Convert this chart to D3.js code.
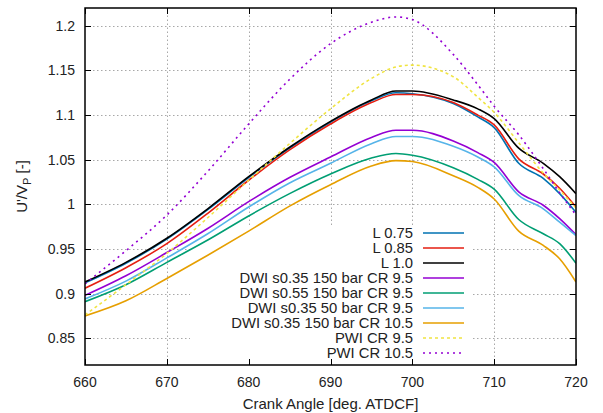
<!DOCTYPE html>
<html>
<head>
<meta charset="utf-8">
<script src="https://cdn.jsdelivr.net/npm/d3@7"></script>
<style>
  body { margin: 0; background: #fff; }
  svg { font-family: 'Liberation Sans', Arial, sans-serif; }
</style>
</head>
<body>
<div id="chart"></div>
<script>
// data ---------------------------------------------------------------
const angles = [660, 665, 670, 675, 680, 685, 690, 695, 698, 700, 705, 708, 710, 713, 716, 718, 720];
const l075 = [0.912, 0.934, 0.961, 0.994, 1.030, 1.063, 1.092, 1.116, 1.125, 1.124, 1.113, 1.098, 1.086, 1.046, 1.029, 1.012, 0.991];
const l085 = [0.906, 0.929, 0.956, 0.990, 1.027, 1.061, 1.090, 1.114, 1.123, 1.123, 1.114, 1.100, 1.089, 1.051, 1.034, 1.018, 0.997];
const l100 = [0.913, 0.935, 0.962, 0.995, 1.031, 1.064, 1.093, 1.117, 1.127, 1.127, 1.117, 1.107, 1.096, 1.063, 1.046, 1.031, 1.012];
const dwi035_150 = [0.898, 0.920, 0.946, 0.973, 1.003, 1.030, 1.053, 1.075, 1.083, 1.083, 1.071, 1.058, 1.047, 1.014, 0.999, 0.984, 0.966];
const dwi055_150 = [0.891, 0.910, 0.935, 0.960, 0.987, 1.012, 1.034, 1.052, 1.057, 1.055, 1.041, 1.028, 1.017, 0.983, 0.967, 0.956, 0.934];
const dwi035_50 = [0.894, 0.914, 0.940, 0.967, 0.997, 1.024, 1.046, 1.068, 1.076, 1.076, 1.065, 1.053, 1.042, 1.010, 0.995, 0.980, 0.965];
const dwi035_150_cr105 = [0.875, 0.892, 0.917, 0.943, 0.970, 0.998, 1.022, 1.043, 1.049, 1.048, 1.032, 1.019, 1.006, 0.970, 0.954, 0.939, 0.913];
const pwi95 = [0.876, 0.910, 0.945, 0.985, 1.027, 1.068, 1.107, 1.141, 1.154, 1.156, 1.143, 1.120, 1.103, 1.069, 1.035, 1.016, 0.996];
const pwi105 = [0.911, 0.948, 0.988, 1.037, 1.090, 1.140, 1.180, 1.204, 1.210, 1.207, 1.168, 1.134, 1.110, 1.078, 1.040, 1.013, 0.988];

const seriesNames = ['L 0.75', 'L 0.85', 'L 1.0', 'DWI s0.35 150 bar CR 9.5', 'DWI s0.55 150 bar CR 9.5',
  'DWI s0.35 50 bar CR 9.5', 'DWI s0.35 150 bar CR 10.5', 'PWI CR 9.5', 'PWI CR 10.5'];
const seriesValues = [l075, l085, l100, dwi035_150, dwi055_150, dwi035_50, dwi035_150_cr105, pwi95, pwi105];
const seriesColors = ['#0072b2', '#e51e10', '#000000', '#9400d3', '#009e73', '#56b4e9', '#e69f00', '#f0e442', '#9400d3'];
const seriesDash = [null, null, null, null, null, null, null, '3,3', '2,4'];

const xTicks = [660, 670, 680, 690, 700, 710, 720];
const yTicks = [0.85, 0.9, 0.95, 1, 1.05, 1.1, 1.15, 1.2];

// layout -------------------------------------------------------------
const width = 603;
const height = 413;
const margin = { top: 8, right: 27, bottom: 48, left: 85 };
const x0 = margin.left, x1 = width - margin.right;
const y0 = height - margin.bottom, y1 = margin.top;

const svg = d3.select('#chart').append('svg')
  .attr('width', width)
  .attr('height', height);

const xScale = d3.scaleLinear().domain([660, 720]).range([x0, x1]);
const yScale = d3.scaleLinear().domain([0.82, 1.22]).range([y0, y1]);

// grid ---------------------------------------------------------------
const grid = svg.append('g')
  .attr('stroke', '#a8a8a8')
  .attr('stroke-width', 1)
  .attr('stroke-dasharray', '1.5,2.5');
grid.selectAll('.gx')
  .data(xTicks.slice(1, -1))
  .enter().append('line')
  .attr('x1', d => Math.round(xScale(d)) + 0.5)
  .attr('x2', d => Math.round(xScale(d)) + 0.5)
  .attr('y1', y0)
  .attr('y2', y1);
grid.selectAll('.gy')
  .data(yTicks)
  .enter().append('line')
  .attr('x1', x0)
  .attr('x2', x1)
  .attr('y1', d => Math.round(yScale(d)) + 0.5)
  .attr('y2', d => Math.round(yScale(d)) + 0.5);

// legend background (covers grid) -------------------------------------
svg.append('rect')
  .attr('x', 190)
  .attr('y', 225)
  .attr('width', 283)
  .attr('height', y0 - 225 - 1)
  .attr('fill', '#fff');

// curves -------------------------------------------------------------
const line = d3.line()
  .x(d => xScale(d[0]))
  .y(d => yScale(d[1]))
  .curve(d3.curveMonotoneX);

svg.append('defs').append('clipPath').attr('id', 'clip')
  .append('rect').attr('x', x0).attr('y', y1).attr('width', x1 - x0).attr('height', y0 - y1);

const curves = svg.append('g').attr('clip-path', 'url(#clip)');
seriesValues.forEach((vals, i) => {
  curves.append('path')
    .datum(angles.map((a, j) => [a, vals[j]]))
    .attr('d', line)
    .attr('fill', 'none')
    .attr('stroke', seriesColors[i])
    .attr('stroke-width', 1.6)
    .attr('stroke-dasharray', seriesDash[i]);
});

// frame + ticks ------------------------------------------------------
const tickLen = 6;
const axes = svg.append('g').attr('stroke', '#000').attr('stroke-width', 1);
xTicks.forEach(t => {
  const x = Math.round(xScale(t)) + 0.5;
  axes.append('line').attr('x1', x).attr('x2', x).attr('y1', y0).attr('y2', y0 - tickLen);
  axes.append('line').attr('x1', x).attr('x2', x).attr('y1', y1).attr('y2', y1 + tickLen);
});
yTicks.forEach(t => {
  const y = Math.round(yScale(t)) + 0.5;
  axes.append('line').attr('x1', x0).attr('x2', x0 + tickLen).attr('y1', y).attr('y2', y);
  axes.append('line').attr('x1', x1).attr('x2', x1 - tickLen).attr('y1', y).attr('y2', y);
});
svg.append('rect')
  .attr('x', x0)
  .attr('y', y1)
  .attr('width', x1 - x0)
  .attr('height', y0 - y1)
  .attr('fill', 'none')
  .attr('stroke', '#000')
  .attr('stroke-width', 1.5);

// tick labels --------------------------------------------------------
svg.append('g').selectAll('text')
  .data(xTicks)
  .enter().append('text')
  .attr('x', d => xScale(d))
  .attr('y', y0 + 22)
  .attr('text-anchor', 'middle')
  .attr('font-size', '14px')
  .attr('fill', '#222')
  .text(d => d);
svg.append('g').selectAll('text')
  .data(yTicks)
  .enter().append('text')
  .attr('x', x0 - 10)
  .attr('y', d => yScale(d) + 5)
  .attr('text-anchor', 'end')
  .attr('font-size', '14px')
  .attr('fill', '#222')
  .text(d => d);

// axis titles --------------------------------------------------------
svg.append('text')
  .attr('x', (x0 + x1) / 2)
  .attr('y', height - 4)
  .attr('text-anchor', 'middle')
  .attr('font-size', '15px')
  .attr('fill', '#222')
  .text('Crank Angle [deg. ATDCF]');

const yTitle = svg.append('text')
  .attr('transform', 'translate(27,' + ((y0 + y1) / 2) + ') rotate(-90)')
  .attr('text-anchor', 'middle')
  .attr('font-size', '15px')
  .attr('fill', '#222');
yTitle.append('tspan').text('U\'/V');
yTitle.append('tspan').attr('font-size', '11px').attr('dy', 4).text('P');
yTitle.append('tspan').attr('dy', -4).text(' [-]');

// legend -------------------------------------------------------------
const legend = svg.append('g');
seriesNames.forEach((name, i) => {
  const y = 233 + i * 15;
  legend.append('text')
    .attr('x', 413)
    .attr('y', y + 5)
    .attr('text-anchor', 'end')
    .attr('font-size', '14.8px')
    .attr('fill', '#222')
    .text(name);
  legend.append('line')
    .attr('x1', 423)
    .attr('x2', 464)
    .attr('y1', y)
    .attr('y2', y)
    .attr('stroke', seriesColors[i])
    .attr('stroke-width', 1.6)
    .attr('stroke-dasharray', seriesDash[i]);
});
</script>
</body>
</html>
